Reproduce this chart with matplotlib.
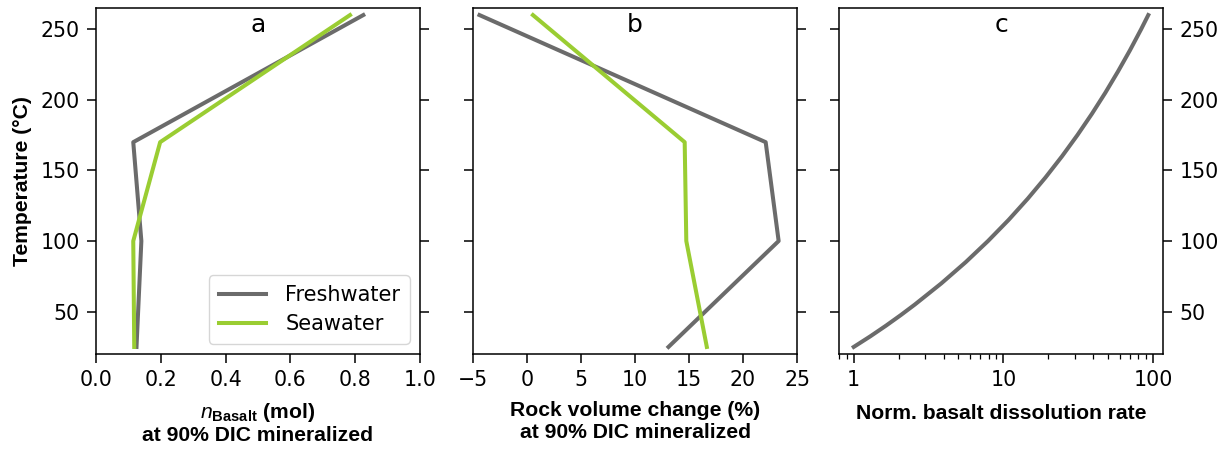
import matplotlib
matplotlib.use("Agg")
import matplotlib.pyplot as plt
from matplotlib.ticker import FixedLocator, FuncFormatter, LogLocator, NullFormatter

# ---------------- data ----------------
temp_pts = [25, 100, 170, 260]

n_basalt_fresh = [0.125, 0.14, 0.115, 0.825]
n_basalt_sea = [0.118, 0.115, 0.198, 0.784]

vol_change_fresh = [13.1, 23.3, 22.1, -4.4]
vol_change_sea = [16.65, 14.75, 14.6, 0.55]

temp_rate = [25, 32.5, 40, 47.5, 55, 70, 85, 100, 115, 130, 145, 160, 175, 190, 205,
             220, 235, 250, 260]
norm_rate = [1.0, 1.29, 1.64, 2.06, 2.56, 3.85, 5.60, 7.9, 10.86, 14.57, 19.14, 24.68,
             31.28, 39.05, 48.07, 58.38, 70.18, 83.43, 93.1]

series_labels = ["Freshwater", "Seawater"]
panel_letters = ["a", "b", "c"]
yticks = [50, 100, 150, 200, 250]
xticks_a = [0.0, 0.2, 0.4, 0.6, 0.8, 1.0]
xticks_b = [-5, 0, 5, 10, 15, 20, 25]
xticks_c = [1, 10, 100]

# ---------------- style ----------------
GRAY = "#6b6b6b"
GREEN = "#9acd32"
LW = 2.9
plt.rcParams["font.family"] = ["DejaVu Sans"]
plt.rcParams["mathtext.fontset"] = "custom"
plt.rcParams["mathtext.it"] = "Liberation Sans:italic"
plt.rcParams["mathtext.bf"] = "Liberation Sans:bold"
plt.rcParams["mathtext.rm"] = "Liberation Sans:bold"
plt.rcParams["axes.linewidth"] = 1.1

label_font = dict(family="Liberation Sans", weight="bold", size=15.2)
TICK_FS = 14.8

fig = plt.figure(figsize=(12.31, 4.5), dpi=100)
W, H = 1231, 450
bottom = (H - 354) / H
height = 346 / H
width = 324 / W
ax_a = fig.add_axes([96 / W, bottom, width, height])
ax_b = fig.add_axes([473 / W, bottom, width, height])
ax_c = fig.add_axes([839 / W, bottom, width, height])

for ax in (ax_a, ax_b, ax_c):
    ax.set_ylim(20, 265)
    ax.yaxis.set_major_locator(FixedLocator(yticks))
    ax.tick_params(axis="both", which="major", length=6.8, width=1.1, labelsize=TICK_FS,
                   direction="out", pad=5)
    ax.tick_params(axis="y", left=True, right=True)

# panel a
ax_a.plot(n_basalt_fresh, temp_pts, color=GRAY, lw=LW, label=series_labels[0])
ax_a.plot(n_basalt_sea, temp_pts, color=GREEN, lw=LW, label=series_labels[1])
ax_a.set_xlim(0, 1)
ax_a.set_xticks(xticks_a)
ax_a.set_xticklabels([f"{v:.1f}" for v in xticks_a])
ax_a.tick_params(axis="y", labelleft=True, labelright=False)
ax_a.set_ylabel("Temperature (°C)", labelpad=6, **label_font)
ax_a.set_xlabel("$\\mathit{n}_{\\mathbf{Basalt}}$ (mol)\nat 90% DIC mineralized",
                labelpad=8, linespacing=1.1, **label_font)
leg = ax_a.legend(loc="lower right", fontsize=15, handlelength=2.3, borderpad=0.45,
                  labelspacing=0.45, handletextpad=0.9)

# panel b
ax_b.plot(vol_change_fresh, temp_pts, color=GRAY, lw=LW)
ax_b.plot(vol_change_sea, temp_pts, color=GREEN, lw=LW)
ax_b.set_xlim(-5, 25)
ax_b.set_xticks(xticks_b)
ax_b.tick_params(axis="y", labelleft=False, labelright=False)
ax_b.set_xlabel("Rock volume change (%)\nat 90% DIC mineralized", labelpad=8,
                linespacing=1.15, **label_font)

# panel c
ax_c.plot(norm_rate, temp_rate, color=GRAY, lw=LW)
ax_c.set_xscale("log")
ax_c.xaxis.set_major_locator(FixedLocator(xticks_c))
ax_c.xaxis.set_major_formatter(FuncFormatter(lambda v, p: f"{v:g}"))
ax_c.xaxis.set_minor_locator(LogLocator(base=10, subs=range(2, 10)))
ax_c.xaxis.set_minor_formatter(NullFormatter())
ax_c.tick_params(axis="x", which="minor", length=3.9, width=0.9)
ax_c.tick_params(axis="y", labelleft=False, labelright=True)
ax_c.set_xlabel("Norm. basalt dissolution rate", labelpad=10, **label_font)

for ax, letter in zip((ax_a, ax_b, ax_c), panel_letters):
    ax.text(0.5, 0.985, letter, transform=ax.transAxes, ha="center", va="top",
            fontsize=18)

fig.savefig("out.png", dpi=100)
